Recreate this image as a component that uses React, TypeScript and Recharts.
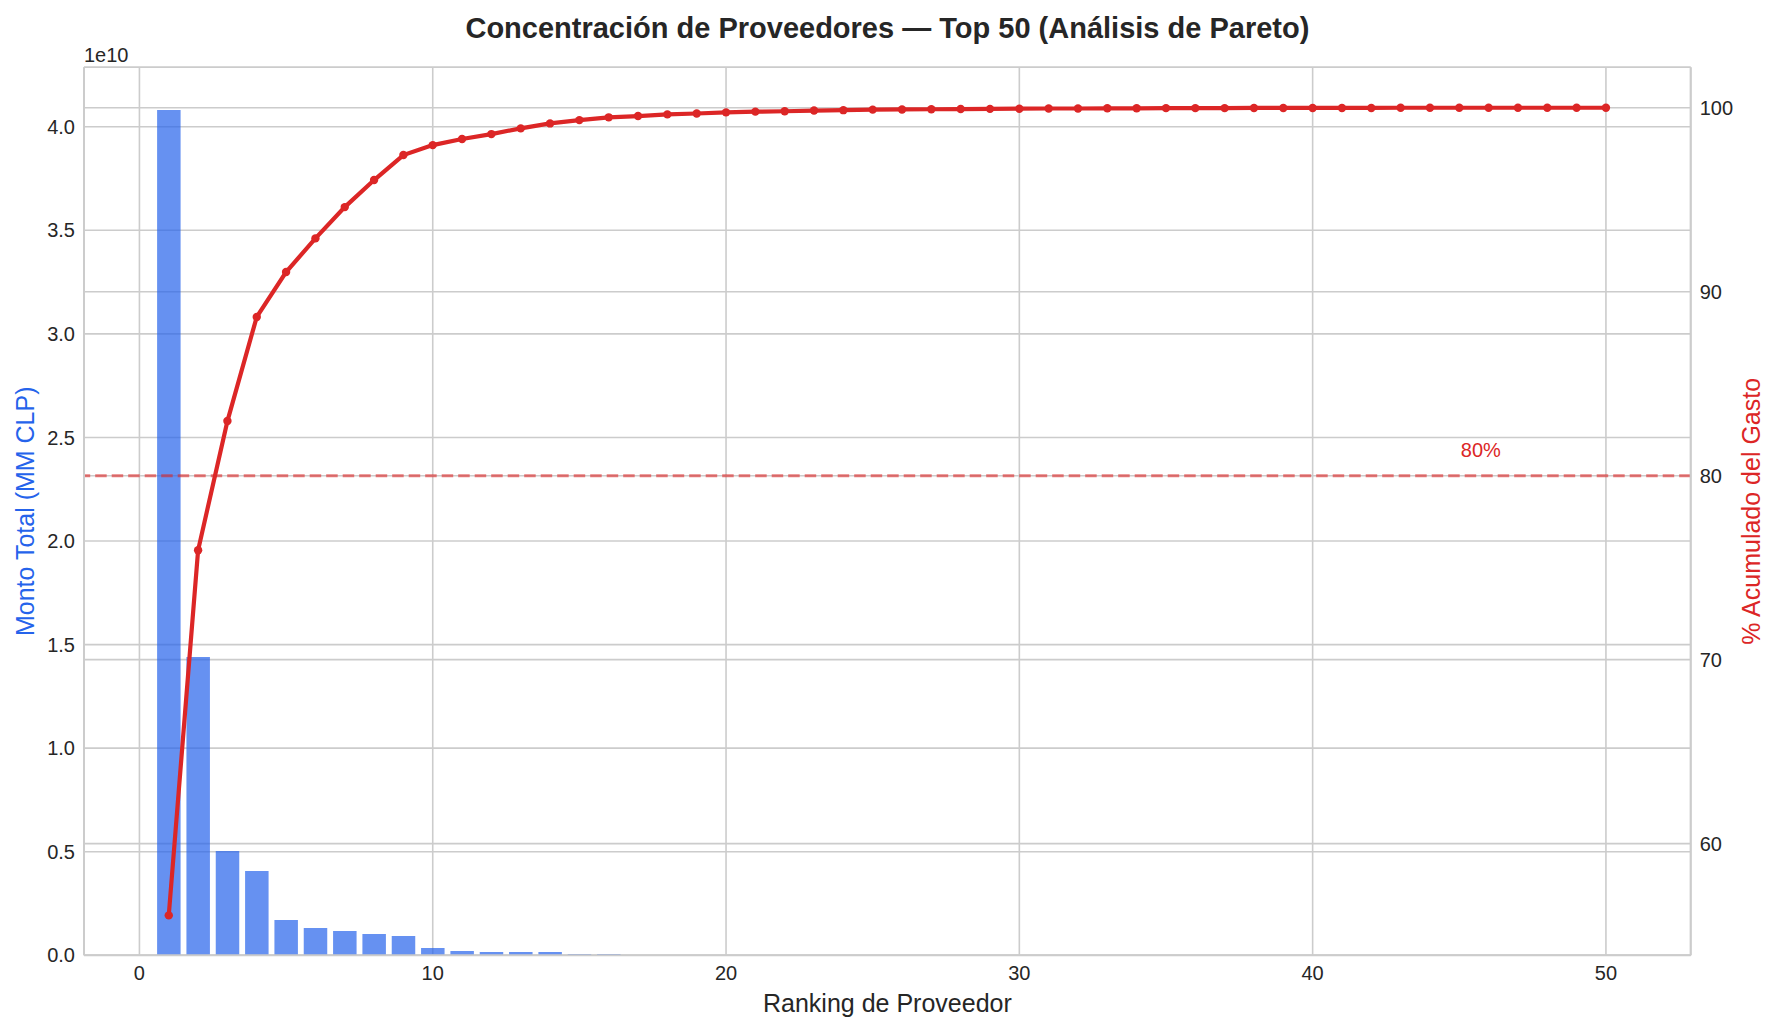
import React from "react";
import {
  ComposedChart,
  Bar,
  Line,
  XAxis,
  YAxis,
  CartesianGrid,
  ReferenceLine,
  ReferenceDot,
} from "recharts";

// Ranking de proveedores (eje X)
const rankings = [
  1, 2, 3, 4, 5, 6, 7, 8, 9, 10,
  11, 12, 13, 14, 15, 16, 17, 18, 19, 20,
  21, 22, 23, 24, 25, 26, 27, 28, 29, 30,
  31, 32, 33, 34, 35, 36, 37, 38, 39, 40,
  41, 42, 43, 44, 45, 46, 47, 48, 49, 50,
];

// Monto total por proveedor (CLP)
const montoTotal = [
  4.081e10, 1.44e10, 0.5035e10, 0.407e10, 0.17e10, 0.132e10, 0.117e10, 0.103e10, 0.093e10, 0.035e10,
  0.021e10, 0.016e10, 0.016e10, 0.016e10, 0.0063e10, 0.0063e10, 1.2e7, 1.1e7, 1.0e7, 9.5e6,
  9e6, 8.5e6, 8e6, 7.6e6, 7.2e6, 6.8e6, 6.4e6, 6e6, 5.7e6, 5.4e6,
  5.1e6, 4.8e6, 4.5e6, 4.2e6, 4e6, 3.8e6, 3.6e6, 3.4e6, 3.2e6, 3e6,
  2.8e6, 2.6e6, 2.5e6, 2.4e6, 2.3e6, 2.2e6, 2.1e6, 2e6, 1.9e6, 1.8e6,
];

// % acumulado del gasto
const acumulado = [
  56.1, 75.95, 82.97, 88.63, 91.07, 92.9, 94.6, 96.07, 97.43, 97.97,
  98.3, 98.57, 98.88, 99.15, 99.33, 99.48, 99.55, 99.64, 99.69, 99.75,
  99.79, 99.81, 99.85, 99.87, 99.9, 99.91, 99.92, 99.93, 99.94, 99.95,
  99.96, 99.96, 99.97, 99.97, 99.98, 99.98, 99.98, 99.99, 99.99, 99.99,
  99.99, 99.99, 100.0, 100.0, 100.0, 100.0, 100.0, 100.0, 100.0, 100.0,
];

const xTicks = [0, 10, 20, 30, 40, 50];
const leftTicks = [0, 0.5e10, 1.0e10, 1.5e10, 2.0e10, 2.5e10, 3.0e10, 3.5e10, 4.0e10];
const rightTicks = [60, 70, 80, 90, 100];

const umbral = 80;
const umbralLabel = "80%";
const umbralLabelPos = { x: 45, y: 81 };

const data = rankings.map((rank, i) => ({
  rank,
  monto: montoTotal[i],
  acumulado: acumulado[i],
}));

const BLUE = "#2563eb";
const RED = "#dc2626";
const GRID = "#cccccc";
const TEXT = "#262626";
const FONT = '"Liberation Sans", Arial, sans-serif';

// label "80%" anclado a un punto de datos
const renderUmbralLabel = (props: any) => {
  const { viewBox } = props;
  return (
    <text
      x={viewBox.x + 1.5}
      y={viewBox.y}
      fill={RED}
      fontSize={20}
      fontFamily={FONT}
      textAnchor="start"
    >
      {umbralLabel}
    </text>
  );
};

export default function App() {
  const tickStyle = { fill: TEXT, fontSize: 20, fontFamily: FONT };
  return (
    <div
      style={{
        position: "absolute",
        left: 0,
        top: 0,
        width: 1780,
        height: 1030,
        background: "#fff",
        fontFamily: FONT,
      }}
    >
      <ComposedChart
        width={1780}
        height={1030}
        data={data}
        margin={{ top: 67.3, right: 29.3, bottom: 34.7, left: 24 }}
      >
        <CartesianGrid stroke={GRID} strokeWidth={1.6} />
        <CartesianGrid yAxisId="right" vertical={false} stroke={GRID} strokeWidth={1.6} />
        <XAxis
          dataKey="rank"
          type="number"
          domain={[-1.89, 52.89]}
          ticks={xTicks}
          allowDataOverflow
          height={40}
          tickSize={0}
          tickMargin={10}
          tick={tickStyle}
          axisLine={{ stroke: GRID, strokeWidth: 2 }}
          tickLine={false}
        />
        <YAxis
          type="number"
          domain={[0, 4.287e10]}
          ticks={leftTicks}
          allowDataOverflow
          width={60}
          tickSize={0}
          tickMargin={9}
          tick={tickStyle}
          tickFormatter={(v: number) => (v / 1e10).toFixed(1)}
          axisLine={{ stroke: GRID, strokeWidth: 2 }}
          tickLine={false}
        />
        <YAxis
          yAxisId="right"
          orientation="right"
          type="number"
          domain={[53.93, 102.2]}
          ticks={rightTicks}
          allowDataOverflow
          width={60}
          tickSize={0}
          tickMargin={9}
          tick={tickStyle}
          axisLine={{ stroke: GRID, strokeWidth: 2 }}
          tickLine={false}
        />
        <Bar
          dataKey="monto"
          barSize={23.5}
          fill={BLUE}
          fillOpacity={0.7}
          isAnimationActive={false}
        />
        <ReferenceLine
          yAxisId="right"
          y={umbral}
          stroke={RED}
          strokeOpacity={0.6}
          strokeWidth={3}
          strokeDasharray="11.5 5"
        />
        <Line
          yAxisId="right"
          type="linear"
          dataKey="acumulado"
          stroke={RED}
          strokeWidth={4.2}
          dot={{ r: 4.2, fill: RED, stroke: RED, strokeWidth: 0 }}
          activeDot={false}
          isAnimationActive={false}
        />
        <ReferenceDot
          yAxisId="right"
          x={umbralLabelPos.x}
          y={umbralLabelPos.y}
          r={0}
          fill="none"
          stroke="none"
          label={renderUmbralLabel}
        />
      </ComposedChart>
      <svg
        width={1780}
        height={1030}
        style={{ position: "absolute", left: 0, top: 0, pointerEvents: "none" }}
      >
        <text
          x={887.4}
          y={38}
          textAnchor="middle"
          fontSize={29}
          fontWeight="bold"
          fill={TEXT}
          fontFamily={FONT}
        >
          Concentración de Proveedores — Top 50 (Análisis de Pareto)
        </text>
        <text x={84} y={62} fontSize={20} fill={TEXT} fontFamily={FONT}>
          1e10
        </text>
        <text
          x={887.4}
          y={1012}
          textAnchor="middle"
          fontSize={25}
          fill={TEXT}
          fontFamily={FONT}
        >
          Ranking de Proveedor
        </text>
        <text
          transform="translate(33.5, 511.3) rotate(-90)"
          textAnchor="middle"
          fontSize={25}
          fill={BLUE}
          fontFamily={FONT}
        >
          Monto Total (MM CLP)
        </text>
        <text
          transform="translate(1760, 511.3) rotate(-90)"
          textAnchor="middle"
          fontSize={25}
          fill={RED}
          fontFamily={FONT}
        >
          % Acumulado del Gasto
        </text>
      </svg>
    </div>
  );
}
